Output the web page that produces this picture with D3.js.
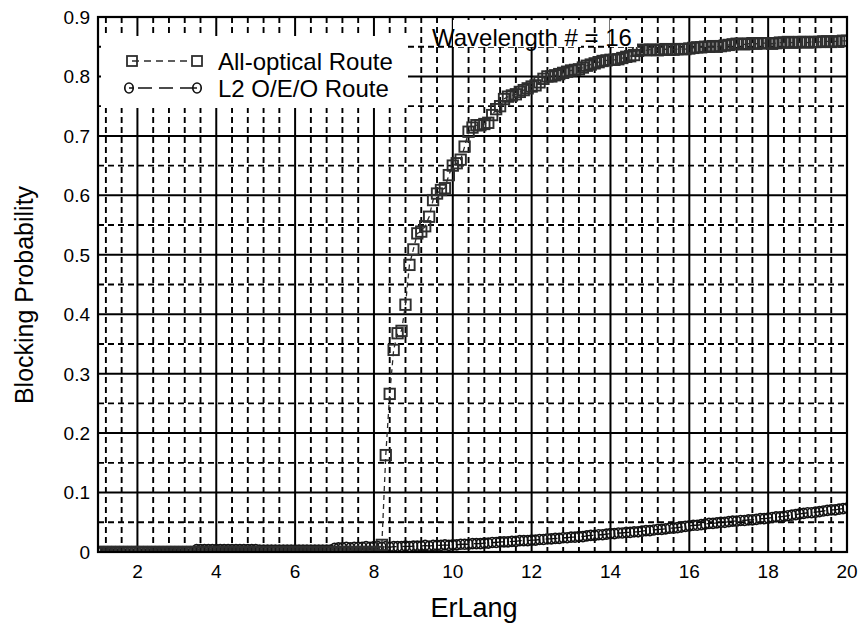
<!DOCTYPE html>
<html><head><meta charset="utf-8">
<script src="https://cdn.jsdelivr.net/npm/d3@7"></script>
<style>
html,body{margin:0;padding:0;background:#fff;}
text{font-family:"Liberation Sans",Arial,sans-serif;fill:#000;}
</style></head>
<body><svg id="chart" width="859" height="629"></svg>
<script>
// ---- data (x = 1.0, 1.1, ..., 20.0 Erlang) ----
const xStart = 1.0, xStep = 0.1;
const allOptical = [
 0,0,0,0,0,0,0,0,0,0, 0,0,0,0,0,0,0,0,0,0, 0,0,0,0,0,0,0,0,0,0,
 0,0,0,0,0,0,0,0,0,0, 0,0,0,0,0,0,0,0,0,0, 0,0,0,0,0,0,0,0,0,0,
 0,0,0,0,0,0,0,0,0,0, 0,0,
 0.012,0.163,0.266,0.340,0.368,0.372,0.416,0.483,
 0.509,0.536,0.539,0.548,0.564,0.592,0.603,0.609,0.612,0.634,
 0.650,0.654,0.660,0.682,0.707,0.714,0.718,0.718,0.720,0.722,
 0.735,0.745,0.750,0.762,0.766,0.768,0.770,0.774,0.777,0.780,
 0.783,0.785,0.790,0.796,0.800,0.800,0.802,0.804,0.806,0.808,
 0.810,0.811,0.812,0.815,0.818,0.820,0.822,0.824,0.826,0.827,
 0.828,0.828,0.829,0.831,0.833,0.834,0.836,0.843,0.845,0.844,
 0.845,0.845,0.844,0.845,0.846,0.845,0.845,0.846,0.846,0.846,
 0.847,0.848,0.849,0.849,0.850,0.850,0.851,0.850,0.851,0.852,
 0.853,0.854,0.855,0.855,0.854,0.855,0.856,0.855,0.856,0.856,
 0.856,0.855,0.856,0.857,0.857,0.858,0.857,0.857,0.858,0.858,
 0.857,0.858,0.858,0.858,0.859,0.859,0.858,0.859,0.859,0.860,
 0.860
];
const l2OEO = [
 0,0,0,0,0,0,0,0,0,0, 0,0,0,0,0,0,0,0,0,0, 0,0,0,0,0,
 0.004,0.004,0.004,0.004,0.004,0.004,0.004,0.004,0.004,0.004,0.004,0.004,0.004,0.004,0.004,0.004,
 0.003,0.003,0.003,0.003,0.003,0.003,0.003,0.003,0.003,0.003,0.003,0.003,0.003,0.003,0.003,0.003,0.003,0.003,0.003,
 0.006,0.007,0.007,0.008,0.007,0.008,0.008,0.008,0.009,0.008,0.009,0.009,0.008,
 0.009,0.008,0.009,0.009,0.009,0.010,0.009,0.010,
 0.010,0.010,0.011,0.010,0.011,0.011,0.011,0.012,0.011,0.012,
 0.012,0.013,0.013,0.013,0.014,0.014,0.014,0.015,0.015,0.016,
 0.016,0.017,0.017,0.017,0.018,0.018,0.019,0.019,0.019,0.020,
 0.020,0.021,0.021,0.022,0.022,0.023,0.023,0.024,0.024,0.025,
 0.025,0.026,0.026,0.027,0.028,0.028,0.029,0.029,0.030,0.031,
 0.031,0.032,0.032,0.033,0.033,0.034,0.034,0.035,0.036,0.036,
 0.037,0.038,0.038,0.039,0.040,0.040,0.041,0.042,0.043,0.044,
 0.045,0.045,0.046,0.047,0.048,0.048,0.049,0.050,0.050,0.051,
 0.052,0.052,0.053,0.053,0.054,0.054,0.055,0.056,0.056,0.057,
 0.058,0.059,0.059,0.060,0.061,0.062,0.063,0.064,0.065,0.066,
 0.066,0.067,0.068,0.069,0.070,0.071,0.071,0.072,0.073,0.074
];
const xTicks = [2,4,6,8,10,12,14,16,18,20];
const yTicks = [0,0.1,0.2,0.3,0.4,0.5,0.6,0.7,0.8,0.9];
const seriesNames = ["All-optical Route","L2 O/E/O Route"];
const annotation = "Wavelength # = 16";
const xTitle = "ErLang", yTitle = "Blocking Probability";

// ---- layout ----
const svg = d3.select("#chart");
const L = 98, R = 847, T = 17, B = 552;
const x = d3.scaleLinear().domain([1,20]).range([L,R]);
const y = d3.scaleLinear().domain([0,0.9]).range([B,T]);

const toPts = arr => arr.map((v,i)=>({x: xStart + i*xStep, y: v}));
const optPts = toPts(allOptical), oeoPts = toPts(l2OEO);

// grid
const g = svg.append("g");
const minorX = d3.range(12, 200, 4).map(v=>v/10).filter(v => Math.abs(v/2 - Math.round(v/2)) > 0.01);
const majorX = xTicks.filter(v => v < 20);
const minorY = d3.range(0.05, 0.9, 0.1);
const majorY = yTicks.filter(v => v > 0 && v < 0.9);
g.selectAll(".mnx").data(minorX).join("line")
  .attr("x1",d=>x(d)).attr("x2",d=>x(d)).attr("y1",T).attr("y2",B)
  .attr("stroke","#000").attr("stroke-width",1.9).attr("stroke-dasharray","6,4");
g.selectAll(".mny").data(minorY).join("line")
  .attr("y1",d=>y(d)).attr("y2",d=>y(d)).attr("x1",L).attr("x2",R)
  .attr("stroke","#000").attr("stroke-width",1.9).attr("stroke-dasharray","6,4");
g.selectAll(".mjx").data(majorX).join("line")
  .attr("x1",d=>x(d)).attr("x2",d=>x(d)).attr("y1",T).attr("y2",B)
  .attr("stroke","#000").attr("stroke-width",2);
g.selectAll(".mjy").data(majorY).join("line")
  .attr("y1",d=>y(d)).attr("y2",d=>y(d)).attr("x1",L).attr("x2",R)
  .attr("stroke","#000").attr("stroke-width",2);

// data
svg.append("clipPath").attr("id","clip").append("rect")
  .attr("x",L).attr("y",T).attr("width",R-L).attr("height",B-T);
const dg = svg.append("g").attr("clip-path","url(#clip)");
const line = d3.line().x(d=>x(d.x)).y(d=>y(d.y));

dg.append("path").datum(oeoPts).attr("d",line).attr("fill","none")
  .attr("stroke","#111").attr("stroke-width",1.3).attr("stroke-dasharray","12,6");
dg.selectAll(".c").data(oeoPts).join("ellipse")
  .attr("cx",d=>x(d.x)).attr("cy",d=>y(d.y)).attr("rx",4.2).attr("ry",5)
  .attr("fill","none").attr("stroke","#111").attr("stroke-width",1.7);

dg.append("path").datum(optPts).attr("d",line).attr("fill","none")
  .attr("stroke","#2a2a2a").attr("stroke-width",1.3).attr("stroke-dasharray","5,4");
dg.selectAll(".s").data(optPts).join("rect")
  .attr("x",d=>x(d.x)-5.2).attr("y",d=>y(d.y)-5.2).attr("width",10.4).attr("height",10.4)
  .attr("fill","none").attr("stroke","#2e2e2e").attr("stroke-width",1.9);

// frame
svg.append("rect").attr("x",L).attr("y",T).attr("width",R-L).attr("height",B-T)
  .attr("fill","none").attr("stroke","#000").attr("stroke-width",2.2);

// axes labels
svg.selectAll(".xt").data(xTicks).join("text")
  .attr("x",d=>x(d)).attr("y",578).attr("text-anchor","middle")
  .attr("font-size",19).text(d=>d);
svg.selectAll(".yt").data(yTicks).join("text")
  .attr("x",90).attr("y",d=>y(d)).attr("dy","0.36em").attr("text-anchor","end")
  .attr("font-size",19).text(d=>d===0?"0":d3.format(".1f")(d));
svg.append("text").attr("x",474).attr("y",617).attr("text-anchor","middle")
  .attr("font-size",27).text(xTitle);
svg.append("text").attr("transform","translate(33,295) rotate(-90)")
  .attr("text-anchor","middle").attr("font-size",25).text(yTitle);

// legend
const lg = svg.append("g");
lg.append("rect").attr("x",101).attr("y",36).attr("width",307).attr("height",72).attr("fill","#fff");
// row 1
lg.append("line").attr("x1",132).attr("x2",197).attr("y1",61).attr("y2",61)
  .attr("stroke","#2a2a2a").attr("stroke-width",1.5).attr("stroke-dasharray","7,5");
[132,197].forEach(cx=>lg.append("rect").attr("x",cx-5).attr("y",56).attr("width",10).attr("height",10)
  .attr("fill","#fff").attr("stroke","#2e2e2e").attr("stroke-width",1.8));
lg.append("line").attr("x1",132).attr("x2",137).attr("y1",61).attr("y2",61).attr("stroke","#2a2a2a").attr("stroke-width",1.5);
lg.append("text").attr("x",218).attr("y",70).attr("font-size",24).text(seriesNames[0]);
// row 2
lg.append("line").attr("x1",129).attr("x2",197).attr("y1",88).attr("y2",88)
  .attr("stroke","#111").attr("stroke-width",1.5).attr("stroke-dasharray","0,9,14,7,14,7,14");
[129,197].forEach(cx=>lg.append("ellipse").attr("cx",cx).attr("cy",88).attr("rx",4.2).attr("ry",5)
  .attr("fill","#fff").attr("stroke","#111").attr("stroke-width",1.7));
lg.append("line").attr("x1",129).attr("x2",133).attr("y1",88).attr("y2",88).attr("stroke","#111").attr("stroke-width",1.5);
lg.append("line").attr("x1",193).attr("x2",197).attr("y1",88).attr("y2",88).attr("stroke","#111").attr("stroke-width",1.5);
lg.append("text").attr("x",218).attr("y",97).attr("font-size",24).text(seriesNames[1]);

// annotation
svg.append("rect").attr("x",453).attr("y",20).attr("width",128).attr("height",27).attr("fill","#fff");
svg.append("rect").attr("x",610).attr("y",20).attr("width",27).attr("height",27).attr("fill","#fff");
svg.append("text").attr("x",432).attr("y",46).attr("font-size",24).text(annotation);
</script></body></html>
